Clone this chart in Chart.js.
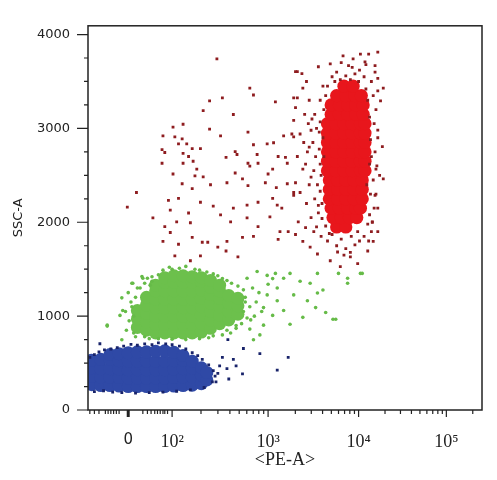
<!DOCTYPE html>
<html>
<head>
<meta charset="utf-8">
<script src="https://cdn.jsdelivr.net/npm/chart.js@4.4.1/dist/chart.umd.min.js"></script>
<style>
  html, body { margin: 0; padding: 0; background: #fff; }
  #wrap { width: 497px; height: 480px; }
</style>
</head>
<body>
<div id="wrap"><canvas id="plot" width="497" height="480"></canvas></div>
<script>
// x = display position on the biexponential PE-A axis (1 unit ~ 1 decade), y = SSC-A
const xTickPos = [1.52, 2.0, 3.05, 4.04, 5.0];
const xTickLabels = ['0', '10²', '10³', '10⁴', '10⁵'];
const xLowMinor = [1.10, 1.15, 1.20, 1.27, 1.30, 1.33, 1.36, 1.39, 1.42, 1.68, 1.73, 1.77, 1.81, 1.84, 1.87, 1.90, 1.92, 1.95];
const yMajor = [0, 1000, 2000, 3000, 4000];
const yMinor = [250, 500, 750, 1250, 1500, 1750, 2250, 2500, 2750, 3250, 3500, 3750];

// lymphocytes (blue), dense part and outlying events
const blueCore = [
  [1.12, 270], [1.12, 360], [1.12, 450], [1.12, 530],
  [1.22, 260], [1.22, 350], [1.22, 440], [1.22, 540],
  [1.32, 260], [1.32, 350], [1.32, 440], [1.32, 540], [1.32, 590],
  [1.42, 255], [1.42, 345], [1.42, 435], [1.42, 525], [1.42, 600],
  [1.52, 250], [1.52, 340], [1.52, 430], [1.52, 520], [1.52, 610],
  [1.62, 250], [1.62, 340], [1.62, 430], [1.62, 520], [1.62, 620],
  [1.72, 250], [1.72, 340], [1.72, 430], [1.72, 520], [1.72, 620],
  [1.82, 250], [1.82, 340], [1.82, 430], [1.82, 520], [1.82, 625],
  [1.92, 250], [1.92, 340], [1.92, 430], [1.92, 520], [1.92, 630],
  [2.02, 255], [2.02, 345], [2.02, 435], [2.02, 525], [2.02, 615],
  [2.12, 260], [2.12, 350], [2.12, 440], [2.12, 530], [2.12, 580],
  [2.22, 265], [2.22, 355], [2.22, 445], [2.22, 520],
  [2.32, 280], [2.32, 370], [2.32, 450],
  [2.38, 320], [2.38, 400]
];
const blueSparse = [
  [1.10, 560], [1.15, 590], [1.20, 620], [1.26, 640], [1.33, 650], [1.40, 665], [1.47, 680],
  [1.55, 700], [1.62, 690], [1.70, 705], [1.78, 695], [1.85, 715], [1.93, 705], [2.00, 695],
  [2.08, 680], [2.15, 650], [2.22, 610], [2.28, 580], [2.33, 540], [2.40, 480], [2.45, 420],
  [1.15, 195], [1.25, 205], [1.35, 190], [1.45, 185], [1.60, 180], [1.75, 185], [1.90, 190],
  [2.05, 200], [2.20, 215], [2.35, 240], [2.44, 300], [2.47, 360],
  [2.61, 750], [2.78, 655], [2.96, 600], [3.27, 560], [3.15, 425], [2.77, 385], [2.67, 540],
  [2.55, 560], [2.52, 470], [2.60, 440], [2.50, 390], [2.62, 330], [2.48, 300], [2.70, 470], [1.21, 706]
];

// monocytes (green)
const greenCore = [
  [1.62, 880], [1.62, 970], [1.62, 1060],
  [1.72, 850], [1.72, 940], [1.72, 1030], [1.72, 1120], [1.72, 1200],
  [1.82, 820], [1.82, 910], [1.82, 1000], [1.82, 1090], [1.82, 1180], [1.82, 1270], [1.82, 1330],
  [1.92, 820], [1.92, 910], [1.92, 1000], [1.92, 1090], [1.92, 1180], [1.92, 1270], [1.92, 1360], [1.92, 1410],
  [2.02, 820], [2.02, 910], [2.02, 1000], [2.02, 1090], [2.02, 1180], [2.02, 1270], [2.02, 1360], [2.02, 1430],
  [2.12, 820], [2.12, 910], [2.12, 1000], [2.12, 1090], [2.12, 1180], [2.12, 1270], [2.12, 1360], [2.12, 1430],
  [2.22, 820], [2.22, 910], [2.22, 1000], [2.22, 1090], [2.22, 1180], [2.22, 1270], [2.22, 1360], [2.22, 1420],
  [2.32, 830], [2.32, 920], [2.32, 1010], [2.32, 1100], [2.32, 1190], [2.32, 1280], [2.32, 1370], [2.32, 1410],
  [2.42, 870], [2.42, 960], [2.42, 1050], [2.42, 1140], [2.42, 1230], [2.42, 1310], [2.42, 1380],
  [2.52, 920], [2.52, 1010], [2.52, 1100], [2.52, 1190], [2.52, 1270], [2.52, 1330],
  [2.62, 960], [2.62, 1050], [2.62, 1140], [2.62, 1220],
  [2.72, 1020], [2.72, 1110], [2.72, 1190]
];
const greenSparse = [
  [1.29, 904], [1.43, 1008], [1.45, 1195], [1.57, 1350], [1.68, 1403], [1.78, 1371],
  [1.29, 894], [1.46, 1060], [1.45, 748], [1.56, 1351], [1.67, 1423], [1.73, 1403], [1.76, 1330],
  [2.93, 1476], [3.04, 1434], [3.13, 1455], [3.22, 1403], [3.29, 1455], [3.40, 1372], [3.51, 1350],
  [3.59, 1455], [3.65, 1278], [3.82, 1455], [3.92, 1403], [4.06, 1455], [3.79, 966], [3.43, 987],
  [3.29, 914], [3.22, 1060], [3.15, 1164], [3.10, 1008], [3.00, 904], [2.96, 800], [2.89, 748],
  [3.33, 1226], [3.48, 1164], [3.57, 1091], [3.68, 1039], [3.59, 1247], [3.15, 1299], [3.04, 1226],
  [3.00, 1091], [2.85, 862], [2.82, 1403], [4.08, 1455], [3.92, 1351], [3.76, 966],
  [1.65, 1300], [1.85, 1440], [2.00, 1500], [2.30, 1490], [2.50, 1430], [2.60, 1380], [1.60, 780],
  [1.75, 760], [2.45, 790], [2.60, 850], [2.70, 900], [2.80, 1200], [2.85, 1100], [2.90, 1000],
  [1.50, 850], [1.53, 950], [1.49, 1050], [1.55, 1150], [1.52, 1250], [1.58, 1000], [1.56, 1100],
  [1.60, 1200], [1.62, 1300], [1.70, 1350], [1.78, 1420], [1.90, 1490], [1.97, 1520], [2.08, 1510],
  [2.15, 1530], [2.25, 1500], [2.38, 1470], [2.45, 1450], [2.55, 1400], [2.65, 1350], [2.72, 1320],
  [2.78, 1280], [2.80, 1150], [2.78, 1050], [2.82, 980], [2.76, 920], [2.70, 870], [2.64, 820],
  [2.55, 800], [2.40, 770], [2.30, 760], [2.15, 750], [2.00, 755], [1.85, 760], [1.70, 780],
  [1.58, 820], [2.88, 1300], [2.95, 1250], [2.92, 1150], [2.98, 1050], [2.86, 960], [3.05, 1340], [3.10, 1400]
];

// granulocytes (red) and the scattered dark red events
const redCore = [
  [3.80, 1950], [3.90, 1950],
  [3.76, 2050], [3.85, 2050], [3.94, 2050], [4.02, 2050],
  [3.74, 2150], [3.83, 2150], [3.92, 2150], [4.01, 2150], [4.06, 2150],
  [3.72, 2250], [3.81, 2250], [3.90, 2250], [3.99, 2250], [4.08, 2250],
  [3.72, 2350], [3.81, 2350], [3.90, 2350], [3.99, 2350], [4.08, 2350],
  [3.72, 2450], [3.81, 2450], [3.90, 2450], [3.99, 2450], [4.08, 2450],
  [3.70, 2550], [3.79, 2550], [3.88, 2550], [3.97, 2550], [4.06, 2550], [4.11, 2550],
  [3.70, 2650], [3.79, 2650], [3.88, 2650], [3.97, 2650], [4.06, 2650], [4.11, 2650],
  [3.70, 2750], [3.79, 2750], [3.88, 2750], [3.97, 2750], [4.06, 2750], [4.11, 2750],
  [3.70, 2850], [3.79, 2850], [3.88, 2850], [3.97, 2850], [4.06, 2850], [4.11, 2850],
  [3.70, 2950], [3.79, 2950], [3.88, 2950], [3.97, 2950], [4.06, 2950], [4.11, 2950],
  [3.70, 3050], [3.79, 3050], [3.88, 3050], [3.97, 3050], [4.06, 3050], [4.11, 3050],
  [3.74, 3150], [3.83, 3150], [3.92, 3150], [4.01, 3150], [4.09, 3150],
  [3.74, 3250], [3.83, 3250], [3.92, 3250], [4.01, 3250], [4.09, 3250],
  [3.80, 3350], [3.90, 3350], [4.00, 3350], [4.07, 3350],
  [3.88, 3450], [3.98, 3450]
];
const redSparse = [
  [2.49, 3740], [2.41, 3294], [2.55, 3325], [2.34, 3190], [2.67, 3148], [2.85, 3429], [2.89, 3356],
  [3.13, 3283], [3.33, 3325], [3.35, 3221], [3.37, 3605], [3.42, 3584],
  [2.01, 3013], [2.12, 3044], [2.41, 2992], [1.90, 2920], [2.03, 2909], [2.11, 2888], [2.53, 2920], [2.83, 2961],
  [1.89, 2774], [1.92, 2743], [2.07, 2836], [2.16, 2836], [2.22, 2785], [2.31, 2785], [2.12, 2733], [2.18, 2701],
  [1.89, 2629], [2.12, 2629], [2.23, 2650], [2.27, 2567], [2.69, 2753], [2.71, 2722], [2.59, 2691], [2.89, 2826],
  [3.04, 2836], [3.11, 2847], [3.22, 2920], [3.31, 2940], [2.93, 2722], [2.83, 2629], [2.94, 2629], [3.16, 2701],
  [3.24, 2691], [3.26, 2629], [3.10, 2567], [2.01, 2514], [2.25, 2494], [2.34, 2483], [2.42, 2400], [2.22, 2359],
  [2.11, 2410], [2.60, 2421], [2.69, 2525], [2.85, 2598], [2.77, 2462], [2.83, 2390], [3.02, 2421], [3.05, 2514],
  [3.14, 2369], [3.26, 2410], [3.33, 2317], [1.61, 2317], [1.51, 2161], [1.96, 2234], [2.07, 2255], [1.98, 2130],
  [2.18, 2099], [2.31, 2213], [2.45, 2172], [2.53, 2078], [2.67, 2151], [2.82, 2182], [2.94, 2213], [3.10, 2255],
  [3.15, 2182], [3.20, 2151], [1.79, 2047], [1.92, 1953], [2.05, 2005], [2.20, 1995], [1.98, 1891], [1.90, 1797],
  [2.07, 1766], [2.22, 1839], [2.33, 1787], [2.39, 1787], [2.50, 1735], [2.60, 1797], [2.64, 2005], [2.82, 2047],
  [2.77, 1839], [2.89, 1849], [2.94, 1953], [3.07, 2057], [3.18, 1901], [3.27, 1901], [3.16, 1818], [2.03, 1642],
  [2.20, 1590], [2.31, 1642], [2.72, 1631], [2.59, 1694],
  [3.35, 3605], [3.37, 3325], [3.43, 3429], [3.33, 3086], [3.40, 2940], [3.33, 2909], [3.37, 2701], [3.43, 2567],
  [3.35, 2421], [3.40, 2317], [3.33, 2286], [3.38, 2005], [3.35, 1870], [3.46, 1943], [3.43, 1797], [3.51, 1735],
  [3.59, 1662], [3.47, 3500], [3.50, 3300], [3.45, 3150], [3.52, 2980], [3.48, 2750], [3.46, 2620], [3.50, 2400],
  [3.47, 2200], [3.52, 2050], [3.55, 1900], [3.44, 2850], [3.49, 3050],
  [4.25, 3813], [4.15, 3792], [4.22, 3668], [4.31, 3429], [4.31, 2462], [4.25, 3533], [4.28, 3294], [4.25, 2982],
  [4.30, 2805], [4.23, 2567], [4.22, 2286], [4.25, 2151], [4.19, 2005], [4.25, 1901], [4.20, 1797], [4.14, 1694],
  [4.03, 1559], [3.84, 1527], [3.73, 1590], [3.81, 1683], [3.95, 1631],
  [3.87, 3772], [3.98, 3740], [4.06, 3792], [3.73, 3688], [3.60, 3657], [3.93, 3668], [4.11, 3709],
  [3.58, 1950], [3.60, 2100], [3.56, 2250], [3.59, 2400], [3.55, 2550], [3.57, 2700], [3.54, 2850], [3.58, 3000],
  [3.56, 3150], [3.62, 3300], [3.65, 3450], [3.60, 2180], [3.62, 2620], [3.61, 2960], [3.63, 1850], [3.52, 2480],
  [3.50, 2800], [3.53, 3100],
  [3.64, 2040], [3.62, 2330], [3.63, 2500], [3.61, 2780], [3.62, 3070], [3.66, 3200], [3.68, 3350], [3.70, 3450],
  [3.65, 2900], [3.66, 2700], [3.64, 2200], [3.68, 1960], [3.72, 1880],
  [4.19, 2000], [4.21, 2150], [4.23, 2300], [4.20, 2450], [4.24, 2600], [4.22, 2750], [4.25, 2900], [4.21, 3050],
  [4.23, 3200], [4.20, 3350], [4.18, 3500], [4.22, 3600], [4.18, 1900], [4.15, 1800], [4.25, 3400], [4.27, 2500],
  [4.16, 2080], [4.17, 2300], [4.16, 2620], [4.17, 2880], [4.16, 3120], [4.14, 3300], [4.12, 3420], [4.13, 2400],
  [4.18, 2700], [4.14, 1980],
  [3.70, 1800], [3.80, 1750], [3.90, 1720], [3.95, 1680], [4.00, 1760], [4.05, 1800], [4.10, 1850], [3.75, 1870],
  [3.85, 1820], [3.88, 1650], [3.96, 1850], [4.03, 1900],
  [3.75, 3550], [3.80, 3600], [3.90, 3560], [3.95, 3520], [4.00, 3580], [4.05, 3620], [4.10, 3550], [3.85, 3700],
  [3.97, 3650], [4.12, 3680], [3.78, 3500], [3.84, 3520], [4.04, 3500]
];

const X_MIN = 1.08, X_MAX = 5.39, Y_MAX = 4093;

// log minor ticks inside each labelled decade
const xMinor = xLowMinor.slice();
for (let i = 1; i < xTickPos.length; i++) {
  const start = xTickPos[i];
  const width = i + 1 < xTickPos.length ? xTickPos[i + 1] - start : start - xTickPos[i - 1];
  for (let k = 2; k <= 9; k++) {
    const p = start + Math.log10(k) * width;
    if (p < X_MAX) xMinor.push(p);
  }
}

const toXY = arr => arr.map(([x, y]) => ({ x, y }));

function cloud(data, color, radius, style) {
  return {
    data: toXY(data),
    backgroundColor: color,
    borderWidth: 0,
    pointRadius: radius,
    pointStyle: style,
    clip: 0
  };
}

const axisMarks = {
  id: 'axisMarks',
  afterDraw(chart) {
    const { ctx, chartArea: a, scales: { x, y } } = chart;
    ctx.save();
    ctx.strokeStyle = '#222';
    ctx.lineWidth = 1.5;
    ctx.strokeRect(a.left, a.top, a.right - a.left, a.bottom - a.top);
    ctx.lineWidth = 1.2;
    ctx.beginPath();
    yMajor.forEach(v => { const p = y.getPixelForValue(v); ctx.moveTo(a.left - 11, p); ctx.lineTo(a.left, p); });
    yMinor.forEach(v => { const p = y.getPixelForValue(v); ctx.moveTo(a.left - 4, p); ctx.lineTo(a.left, p); });
    xTickPos.forEach(v => { const p = x.getPixelForValue(v); ctx.moveTo(p, a.bottom); ctx.lineTo(p, a.bottom + 7); });
    xMinor.forEach(v => { const p = x.getPixelForValue(v); ctx.moveTo(p, a.bottom); ctx.lineTo(p, a.bottom + 4); });
    ctx.stroke();
    // the zero mark is drawn heavier, like the crowded ticks round 0
    const z = x.getPixelForValue(xTickPos[0]);
    ctx.lineWidth = 3;
    ctx.beginPath();
    ctx.moveTo(z, a.bottom);
    ctx.lineTo(z, a.bottom + 7);
    ctx.stroke();
    ctx.restore();
  }
};

new Chart(document.getElementById('plot').getContext('2d'), {
  type: 'scatter',
  data: {
    datasets: [
      cloud(blueSparse, '#18236a', 2, 'rect'),
      cloud(blueCore, '#2f49a6', 6.5, 'circle'),
      cloud(redSparse, '#8e1c1f', 2, 'rect'),
      cloud(redCore, '#e8161c', 6.6, 'circle'),
      cloud(greenSparse, '#66bb48', 1.8, 'circle'),
      cloud(greenCore, '#6cc04c', 6.5, 'circle')
    ]
  },
  options: {
    responsive: false,
    animation: false,
    events: [],
    layout: { padding: { left: 0, right: 15, top: 16, bottom: 0 } },
    plugins: {
      legend: { display: false },
      tooltip: { enabled: false }
    },
    scales: {
      x: {
        type: 'linear',
        min: X_MIN,
        max: X_MAX,
        grid: { display: false, drawTicks: false },
        border: { display: false },
        afterBuildTicks: s => { s.ticks = xTickPos.map(v => ({ value: v })); },
        afterFit: s => { s.height = 70; },
        ticks: {
          autoSkip: false,
          maxRotation: 0,
          padding: 21,
          color: '#222',
          callback: (v, i) => xTickLabels[i],
          font: ctx => ctx.index === 0
            ? { family: 'DejaVu Sans', size: 15 }
            : { family: 'Liberation Serif', size: 18 }
        },
        title: {
          display: true,
          text: '<PE-A>',
          color: '#222',
          font: { family: 'Liberation Serif', size: 18 },
          padding: { top: 0, bottom: 9 }
        }
      },
      y: {
        type: 'linear',
        min: 0,
        max: Y_MAX,
        grid: { display: false, drawTicks: false },
        border: { display: false },
        afterBuildTicks: s => { s.ticks = yMajor.map(v => ({ value: v })); },
        afterFit: s => { s.width = 88; },
        ticks: {
          autoSkip: false,
          padding: 18,
          color: '#222',
          callback: v => String(v),
          font: { family: 'DejaVu Sans', size: 13 }
        },
        title: {
          display: true,
          text: 'SSC-A',
          color: '#222',
          font: { family: 'DejaVu Sans', size: 13 },
          padding: { top: 11, bottom: 0 }
        }
      }
    }
  },
  plugins: [axisMarks]
});
</script>
</body>
</html>
